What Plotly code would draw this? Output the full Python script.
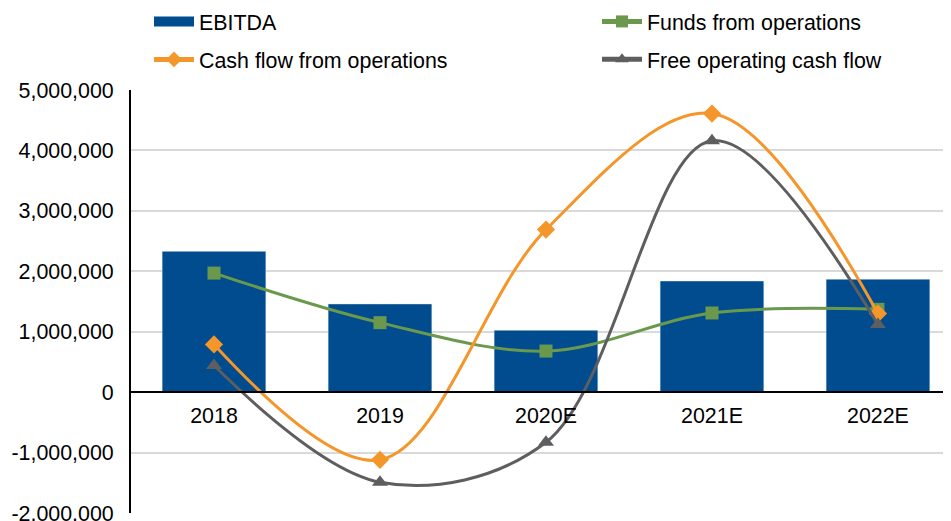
import plotly.graph_objects as go

years = ["2018", "2019", "2020E", "2021E", "2022E"]
ebitda = [2330000, 1460000, 1025000, 1840000, 1870000]
ffo = [1970000, 1150000, 680000, 1310000, 1370000]
cfo = [790000, -1120000, 2690000, 4610000, 1300000]
focf = [440000, -1490000, -830000, 4160000, 1120000]
y_ticks = [-2000000, -1000000, 0, 1000000, 2000000, 3000000, 4000000, 5000000]
y_tick_text = [f"{v:,}" for v in y_ticks]

BLUE = "#004C8F"
GREEN = "#6A994E"
ORANGE = "#F5962B"
GREY = "#5E5E60"
FS = 21.4
W, H = 943, 513
T, B = 82, 8
PH = H - T - B

fig = go.Figure()
fig.add_trace(go.Bar(x=years, y=ebitda, name="EBITDA", marker_color=BLUE,
                     width=0.625, showlegend=False))
# legend entry mimicking the wide bar swatch
fig.add_trace(go.Scatter(x=[None], y=[None], mode="lines", name="EBITDA",
                         line=dict(color=BLUE, width=10), legend="legend3",
                         legendgroup="a"))
fig.add_trace(go.Scatter(x=years, y=ffo, name="Funds from operations",
                         mode="lines+markers", legend="legend2", legendgroup="c",
                         line=dict(color=GREEN, width=3, shape="spline", smoothing=1.0),
                         marker=dict(symbol="square", size=13, color=GREEN)))
fig.add_trace(go.Scatter(x=years, y=cfo, name="Cash flow from operations",
                         mode="lines+markers", legend="legend", legendgroup="b",
                         line=dict(color=ORANGE, width=3, shape="spline", smoothing=1.0),
                         marker=dict(symbol="diamond", size=14, color=ORANGE)))
fig.add_trace(go.Scatter(x=years, y=focf, name="Free operating cash flow",
                         mode="lines+markers", legend="legend2", legendgroup="d",
                         line=dict(color=GREY, width=3, shape="spline", smoothing=1.0),
                         marker=dict(symbol="triangle-up", size=14, color=GREY)))

leg_common = dict(orientation="v", xanchor="left", yanchor="top",
                  xref="container", yref="paper",
                  font=dict(size=FS), itemwidth=40, tracegroupgap=7,
                  bgcolor="rgba(0,0,0,0)", borderwidth=0)
y_row1 = 1 + (T + 7) / PH
y_row2 = 1 + (T + 7 - 38) / PH

fig.update_layout(
    width=W, height=H,
    margin=dict(l=123, r=0, t=T, b=B, pad=0, autoexpand=False),
    plot_bgcolor="white", paper_bgcolor="white",
    font=dict(family="Liberation Sans, Arial, sans-serif", size=FS, color="#000000"),
    legend3=dict(x=141 / W, y=y_row1, itemsizing="trace", **leg_common),
    legend=dict(x=141 / W, y=y_row2, itemsizing="constant", **leg_common),
    legend2=dict(x=589 / W, y=y_row1, itemsizing="constant", **leg_common),
    xaxis=dict(type="category", range=[-0.5, 4.44], anchor="free", position=2/7,
               showline=True, linecolor="#000000", linewidth=2,
               showgrid=False, ticks="", ticklabelstandoff=4, tickfont=dict(size=FS)),
    yaxis=dict(range=[-2000000, 5000000], tickvals=y_ticks, ticktext=y_tick_text,
               showgrid=True, gridcolor="#D9D9D9", gridwidth=2,
               zeroline=True, zerolinecolor="#000000", zerolinewidth=2,
               showline=True, linecolor="#000000", linewidth=2,
               ticks="", ticklabelstandoff=11, ticklabeloverflow="allow",
               tickfont=dict(size=FS)),
    bargap=0.375,
)
fig.write_html("out.html")
